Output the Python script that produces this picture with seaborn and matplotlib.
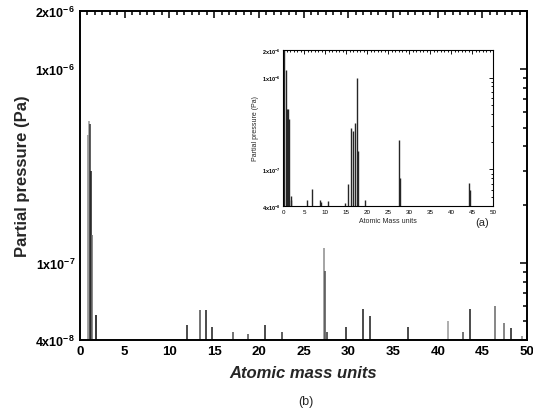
import seaborn as sns
import matplotlib
import matplotlib.pyplot as plt
from matplotlib.ticker import LogLocator, MultipleLocator, AutoMinorLocator, NullFormatter

matplotlib.use('agg')

# main spectrum (b)
main_amu = [0.9, 1.0, 1.1, 1.2, 1.3, 1.85, 12.0, 13.4, 14.05, 14.8, 17.1, 18.75,
            20.7, 22.6, 27.3, 27.45, 27.6, 29.8, 31.6, 32.4, 36.65, 41.1, 42.8,
            43.6, 46.4, 47.4, 48.2, 49.4]
main_pp = [4.6e-7, 5.4e-7, 5.2e-7, 3.0e-7, 1.4e-7, 5.4e-8, 4.8e-8, 5.7e-8, 5.7e-8,
           4.7e-8, 4.4e-8, 4.3e-8, 4.8e-8, 4.4e-8, 1.2e-7, 9.1e-8, 4.4e-8, 4.7e-8,
           5.8e-8, 5.3e-8, 4.7e-8, 5.0e-8, 4.4e-8, 5.8e-8, 6.0e-8, 4.9e-8, 4.6e-8,
           4.2e-8]
main_shade = ['0.55', '0.6', '0.2', '0.1', '0.4', '0.0', '0.1', '0.3', '0.1', '0.1',
              '0.3', '0.3', '0.1', '0.2', '0.55', '0.3', '0.2', '0.1', '0.1', '0.1',
              '0.1', '0.6', '0.3', '0.1', '0.4', '0.4', '0.1', '0.5']

# inset spectrum (a)
inset_amu = [0.3, 0.6, 0.9, 1.2, 1.5, 1.8, 2.0, 5.7, 7.0, 8.9, 9.1, 10.7, 14.7,
             15.5, 16.3, 16.7, 17.1, 17.5, 17.9, 19.6, 27.7, 27.9, 44.2, 44.4]
inset_pp = [2.0e-6, 1.2e-6, 4.6e-7, 4.6e-7, 3.5e-7, 5.2e-8, 4.6e-8, 4.6e-8, 6.2e-8,
            4.6e-8, 4.4e-8, 4.5e-8, 4.3e-8, 7.0e-8, 2.8e-7, 2.6e-7, 3.2e-7, 1.0e-6,
            1.6e-7, 4.6e-8, 2.1e-7, 8.0e-8, 7.2e-8, 6.0e-8]

y_ticks = [4e-8, 1e-7, 1e-6, 2e-6]
y_labels = [r'$\mathbf{4x10^{-8}}$', r'$\mathbf{1x10^{-7}}$',
            r'$\mathbf{1x10^{-6}}$', r'$\mathbf{2x10^{-6}}$']
base = 4e-8
top = 2e-6

sns.set_style('white')
plt.rcParams['font.family'] = ['Liberation Sans', 'DejaVu Sans']
plt.rcParams['mathtext.fontset'] = 'custom'
plt.rcParams['mathtext.rm'] = 'Liberation Sans'
plt.rcParams['mathtext.bf'] = 'Liberation Sans:bold'


def style_axes(ax, fs, lw, xstep):
    ax.set_yscale('log')
    ax.set_xlim(0, 50)
    ax.set_ylim(base, top)
    ax.set_yticks(y_ticks)
    ax.set_yticklabels(y_labels, fontsize=fs)
    ax.yaxis.set_minor_locator(LogLocator(base=10, subs=range(2, 10)))
    ax.yaxis.set_minor_formatter(NullFormatter())
    ax.xaxis.set_major_locator(MultipleLocator(xstep))
    ax.xaxis.set_minor_locator(AutoMinorLocator(6))
    for s in ax.spines.values():
        s.set_linewidth(lw)
        s.set_color('black')
    ax.tick_params(which='both', direction='in', top=True, right=True,
                   colors='black', width=lw * 0.8)
    ax.tick_params(which='major', length=5 * lw / 1.4)
    ax.tick_params(which='minor', length=3 * lw / 1.4)


fig = plt.figure(figsize=(5.33, 4.14), dpi=100)
ax = fig.add_axes([0.150, 0.176, 0.839, 0.795])
ax.vlines(main_amu, base, main_pp, colors=main_shade, linewidth=1.1)
style_axes(ax, 9, 1.4, 5)
ax.tick_params(axis='x', labelsize=9.5)
for t in ax.get_xticklabels():
    t.set_fontweight('bold')
ax.set_xlabel('Atomic mass units', fontsize=12, fontweight='bold', style='italic', labelpad=6)
ax.set_ylabel('Partial pressure (Pa)', fontsize=12, fontweight='bold', labelpad=4)
fig.text(0.573, 0.022, '(b)', ha='center', fontsize=9)

ins = fig.add_axes([0.531, 0.5, 0.394, 0.377])
ins.vlines(inset_amu, base, inset_pp, colors='0.15', linewidth=1.0)
style_axes(ins, 4, 0.8, 5)
ins.tick_params(axis='x', labelsize=4.5, pad=2)
ins.tick_params(axis='y', pad=2)
ins.set_xlabel('Atomic Mass units', fontsize=5, labelpad=2)
ins.set_ylabel('Partial pressure (Pa)', fontsize=5, labelpad=2)
fig.text(0.905, 0.455, '(a)', ha='center', fontsize=8)

fig.savefig('out.png', dpi=100)
plt.close(fig)
